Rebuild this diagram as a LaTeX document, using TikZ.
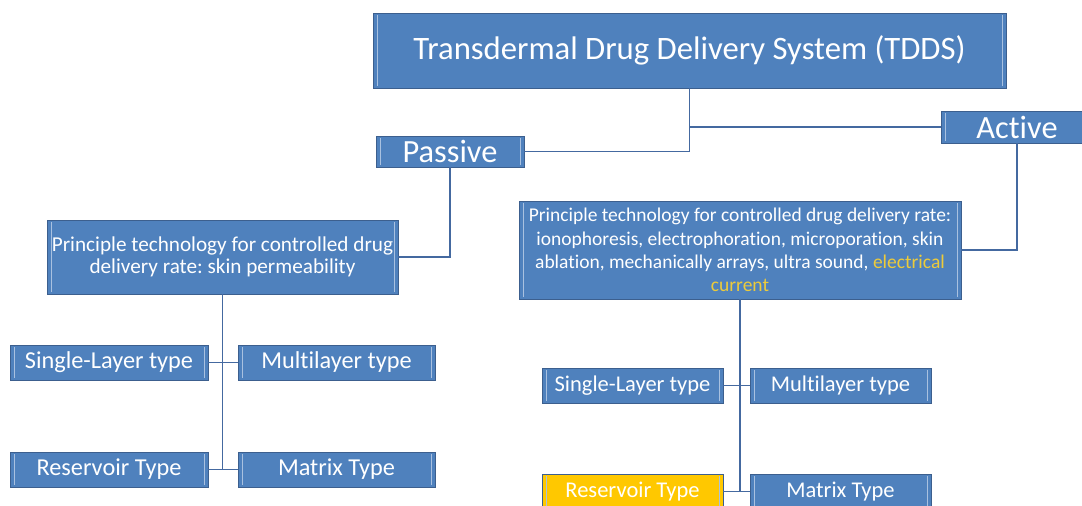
\documentclass[tikz,border=0pt]{standalone}
\usepackage{fontspec}
\setmainfont{Carlito}[Ligatures={NoCommon}]
\frenchspacing
\usetikzlibrary{shadows}
\definecolor{bblue}{HTML}{4F81BD}
\definecolor{bord}{HTML}{3C5F8E}
\definecolor{inline}{HTML}{A9C1E0}
\definecolor{conn}{HTML}{4469A0}
\definecolor{ybox}{HTML}{FFC800}
\definecolor{ytext}{HTML}{EDCB3A}
\tikzset{
  bx/.style={draw=bord, line width=0.9pt, fill=bblue, text=white, inner sep=0pt, align=center,
    drop shadow={shadow xshift=1.2pt, shadow yshift=-1.2pt, opacity=0.35},
    path picture={
      \draw[inline, line width=0.9pt] ([xshift=4pt,yshift=2pt]path picture bounding box.south west) -- ([xshift=4pt,yshift=-2pt]path picture bounding box.north west);
      \draw[inline, line width=0.9pt] ([xshift=-4pt,yshift=2pt]path picture bounding box.south east) -- ([xshift=-4pt,yshift=-2pt]path picture bounding box.north east);
    }},
  ybx/.style={bx, fill=ybox},
  cn/.style={draw=conn, line width=1.1pt},
  ftop/.style={font=\fontsize{32.7}{38}\selectfont},
  fmid/.style={font=\fontsize{32.4}{36}\selectfont},
  fprl/.style={font=\fontsize{21.2}{22.5}\selectfont},
  fprr/.style={font=\fontsize{19.5}{23.3}\selectfont},
  fchl/.style={font=\fontsize{24.3}{28}\selectfont},
  fchr/.style={font=\fontsize{22.5}{26}\selectfont}
}
\begin{document}
\begin{tikzpicture}[x=1pt,y=-1pt]
\useasboundingbox[fill=white] (0,0) rectangle (1082,506);
\clip (0,0) rectangle (1082,506);

\node[bx, ftop, minimum width=633pt, minimum height=75pt] (top) at (689.5,50.5) {Transdermal Drug Delivery System (TDDS)};
\node[bx, fmid, minimum width=148pt, minimum height=31pt] (passive) at (450,151.5) {Passive};
\node[bx, fmid, minimum width=152pt, minimum height=32pt] (active) at (1017,127) {Active};

\node[bx, fprl, minimum width=351pt, minimum height=74pt] (lp) at (222.5,257)
  {Principle technology for controlled drug\\delivery rate: skin permeability};
\node[bx, fprr, minimum width=442pt, minimum height=98pt] (rp) at (740,250)
  {Principle technology for controlled drug delivery rate:\\ionophoresis, electrophoration, microporation, skin\\ablation, mechanically arrays, ultra sound, \textcolor{ytext}{electrical}\\\textcolor{ytext}{current}};

\node[bx, fchl, minimum width=198pt, minimum height=35pt] (ls) at (109,362.5) {Single-Layer type};
\node[bx, fchl, minimum width=197pt, minimum height=35pt] (lm) at (336.5,362.5) {Multilayer type};
\node[bx, fchl, minimum width=198pt, minimum height=35pt] (lr) at (109,469.5) {Reservoir Type};
\node[bx, fchl, minimum width=197pt, minimum height=35pt] (lx) at (336.5,469.5) {Matrix Type};

\node[bx, fchr, minimum width=181pt, minimum height=35pt] (rs) at (632.5,385.5) {Single-Layer type};
\node[bx, fchr, minimum width=181pt, minimum height=35pt] (rm) at (840.5,385.5) {Multilayer type};
\node[ybx, fchr, minimum width=181pt, minimum height=35pt] (rr) at (632.5,491.5) {Reservoir Type};
\node[bx, fchr, minimum width=181pt, minimum height=35pt] (rx) at (840.5,491.5) {Matrix Type};

\draw[cn] (top.south) |- (active.west);
\draw[cn] (top.south) |- (passive.east);
\draw[cn] (passive.south) |- (lp.east);
\draw[cn] (active.south) |- (rp.east);

\draw[cn] (lp.south) -- (lp.south |- lr.east);
\draw[cn] (ls.east) -- (lm.west);
\draw[cn] (lr.east) -- (lx.west);

\draw[cn] (rp.south) -- (rp.south |- rr.east);
\draw[cn] (rs.east) -- (rm.west);
\draw[cn] (rr.east) -- (rx.west);
\end{tikzpicture}
\end{document}
